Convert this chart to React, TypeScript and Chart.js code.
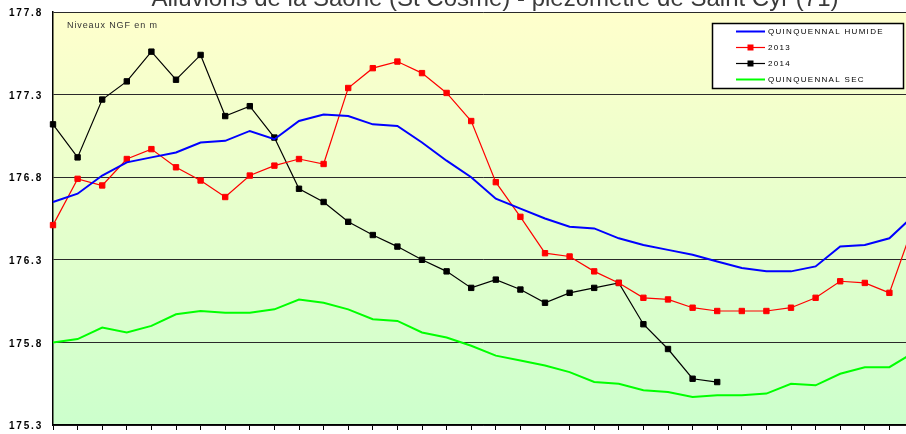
import React, { useEffect, useRef } from 'react';
import { Chart, registerables } from 'chart.js';

Chart.register(...registerables);

const TITLE = 'Alluvions de la Saône (St Cosme) - piézomètre de Saint Cyr (71)';
const UNIT_NOTE = 'Niveaux NGF en m';

const categories = [
  'S1', 'S2', 'S3', 'S4', 'S5', 'S6', 'S7', 'S8', 'S9', 'S10', 'S11', 'S12',
  'S13', 'S14', 'S15', 'S16', 'S17', 'S18', 'S19', 'S20', 'S21', 'S22', 'S23', 'S24',
  'S25', 'S26', 'S27', 'S28', 'S29', 'S30', 'S31', 'S32', 'S33', 'S34', 'S35', 'S36',
];

const quinquennalHumide = [
  176.65, 176.70, 176.81, 176.89, 176.92, 176.95, 177.01, 177.02, 177.08, 177.03, 177.14, 177.18,
  177.17, 177.12, 177.11, 177.01, 176.90, 176.80, 176.67, 176.61, 176.55, 176.50, 176.49, 176.43,
  176.39, 176.36, 176.33, 176.29, 176.25, 176.23, 176.23, 176.26, 176.38, 176.39, 176.43, 176.57,
];

const serie2013 = [
  176.51, 176.79, 176.75, 176.91, 176.97, 176.86, 176.78, 176.68, 176.81, 176.87, 176.91, 176.88,
  177.34, 177.46, 177.50, 177.43, 177.31, 177.14, 176.77, 176.56, 176.34, 176.32, 176.23, 176.16,
  176.07, 176.06, 176.01, 175.99, 175.99, 175.99, 176.01, 176.07, 176.17, 176.16, 176.10, 176.52,
];

const serie2014 = [
  177.12, 176.92, 177.27, 177.38, 177.56, 177.39, 177.54, 177.17, 177.23, 177.04, 176.73, 176.65,
  176.53, 176.45, 176.38, 176.30, 176.23, 176.13, 176.18, 176.12, 176.04, 176.10, 176.13, 176.16,
  175.91, 175.76, 175.58, 175.56,
];

const quinquennalSec = [
  175.80, 175.82, 175.89, 175.86, 175.90, 175.97, 175.99, 175.98, 175.98, 176.00, 176.06, 176.04,
  176.00, 175.94, 175.93, 175.86, 175.83, 175.78, 175.72, 175.69, 175.66, 175.62, 175.56, 175.55,
  175.51, 175.50, 175.47, 175.48, 175.48, 175.49, 175.55, 175.54, 175.61, 175.65, 175.65, 175.74,
];

const yTickValues = [175.3, 175.8, 176.3, 176.8, 177.3, 177.8];

const seriesNames = ['QUINQUENNAL HUMIDE', '2013', '2014', 'QUINQUENNAL SEC'];

const FONT = '"Liberation Sans", Arial, Helvetica, sans-serif';

const backgroundPlugin = {
  id: 'plotBackground',
  beforeDraw(chart: any) {
    const { ctx, chartArea: a } = chart;
    const g = ctx.createLinearGradient(0, a.top, 0, a.bottom);
    g.addColorStop(0, '#FFFFCC');
    g.addColorStop(1, '#CCFFCC');
    ctx.save();
    ctx.fillStyle = g;
    ctx.fillRect(a.left, a.top, a.right - a.left, a.bottom - a.top);
    ctx.restore();
  },
};

const decorPlugin = {
  id: 'decor',
  afterDraw(chart: any) {
    const { ctx } = chart;
    const ys = chart.scales.y;
    ctx.save();

    // title (top part is cut by the canvas edge, as in the reference)
    ctx.letterSpacing = '0px';
    ctx.font = `24px ${FONT}`;
    ctx.fillStyle = '#3a3a3a';
    ctx.textAlign = 'center';
    ctx.textBaseline = 'alphabetic';
    ctx.fillText(TITLE, 495, 6);

    // y tick labels
    ctx.font = `bold 10px ${FONT}`;
    ctx.letterSpacing = '1.8px';
    ctx.fillStyle = '#000';
    ctx.textAlign = 'left';
    ctx.textBaseline = 'middle';
    yTickValues.forEach((v) => {
      ctx.fillText(v.toFixed(1), 9, ys.getPixelForValue(v) + 1.5);
    });

    // unit note
    ctx.font = `9px ${FONT}`;
    ctx.letterSpacing = '0.9px';
    ctx.fillStyle = '#333';
    ctx.fillText(UNIT_NOTE, 67, 26);

    // legend
    const lx = 712, ly = 23, lw = 191, lh = 65;
    ctx.fillStyle = '#ffffff';
    ctx.fillRect(lx, ly, lw, lh);
    ctx.strokeStyle = '#000';
    ctx.lineWidth = 1.5;
    ctx.strokeRect(lx + 0.5, ly + 0.5, lw, lh);
    ctx.font = `8px ${FONT}`;
    ctx.letterSpacing = '1.3px';
    chart.data.datasets.forEach((ds: any, i: number) => {
      const y = ly + 8.5 + i * 16;
      ctx.strokeStyle = ds.borderColor;
      ctx.lineWidth = ds.borderWidth;
      ctx.beginPath();
      ctx.moveTo(736, y);
      ctx.lineTo(765, y);
      ctx.stroke();
      if (ds.pointRadius > 0) {
        ctx.fillStyle = ds.borderColor;
        ctx.fillRect(747.5, y - 3, 6, 6);
      }
      ctx.fillStyle = '#000';
      ctx.fillText(ds.label, 768, y + 0.5);
    });

    ctx.restore();
  },
};

export default function App() {
  const ref = useRef<HTMLCanvasElement | null>(null);

  useEffect(() => {
    if (!ref.current) return;
    const chart = new Chart(ref.current, {
      type: 'line',
      data: {
        labels: categories,
        datasets: [
          {
            label: seriesNames[0],
            data: quinquennalHumide,
            borderColor: '#0000FF',
            backgroundColor: '#0000FF',
            borderWidth: 2,
            pointRadius: 0,
            tension: 0,
          },
          {
            label: seriesNames[1],
            data: serie2013,
            borderColor: '#FF0000',
            backgroundColor: '#FF0000',
            borderWidth: 1.2,
            pointStyle: 'rect',
            pointRadius: 3.8,
            pointBorderWidth: 1,
            tension: 0,
          },
          {
            label: seriesNames[2],
            data: serie2014,
            borderColor: '#000000',
            backgroundColor: '#000000',
            borderWidth: 1.2,
            pointStyle: 'rect',
            pointRadius: 3.8,
            pointBorderWidth: 1,
            tension: 0,
          },
          {
            label: seriesNames[3],
            data: quinquennalSec,
            borderColor: '#00FF00',
            backgroundColor: '#00FF00',
            borderWidth: 2,
            pointRadius: 0,
            tension: 0,
          },
        ],
      },
      options: {
        responsive: false,
        animation: false,
        devicePixelRatio: 1,
        layout: { padding: { left: 0, top: 12, right: 26, bottom: 0 } },
        plugins: {
          legend: { display: false },
          title: { display: false },
          tooltip: { enabled: false },
        },
        scales: {
          x: {
            type: 'category',
            offset: false,
            ticks: { display: false, autoSkip: false },
            grid: {
              display: true,
              drawOnChartArea: false,
              drawTicks: true,
              tickLength: 5,
              color: '#000',
              lineWidth: 1,
            },
            border: { display: true, color: '#000', width: 1.5 },
            afterFit: (s: any) => {
              s.height = 9;
            },
          },
          y: {
            type: 'linear',
            min: 175.3,
            max: 177.8,
            ticks: { display: false },
            afterBuildTicks: (s: any) => {
              s.ticks = yTickValues.map((v) => ({ value: v }));
            },
            grid: {
              display: true,
              drawTicks: false,
              color: '#2a2a2a',
              lineWidth: 1,
            },
            border: { display: true, color: '#000', width: 1.5 },
            afterFit: (s: any) => {
              s.width = 53;
            },
          },
        },
      },
      plugins: [backgroundPlugin, decorPlugin],
    });
    return () => chart.destroy();
  }, []);

  return (
    <div
      style={{
        position: 'fixed',
        left: 0,
        top: 0,
        width: 906,
        height: 434,
        overflow: 'hidden',
        background: '#ffffff',
      }}
    >
      <canvas ref={ref} width={940} height={434} style={{ display: 'block' }} />
    </div>
  );
}
